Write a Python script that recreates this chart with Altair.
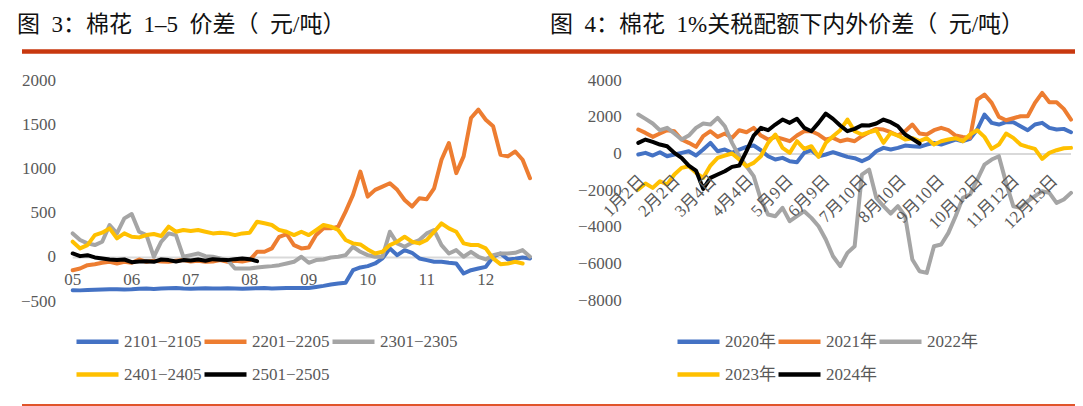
import altair as alt
import pandas as pd

FONT = "Liberation Serif, Noto Sans CJK SC"
GRAY_TXT = "#595959"
SP = "\u00a0\u00a0"

# ---------------- left panel: 棉花 1-5 价差 ----------------
left_title = "图" + SP + "3：棉花" + SP + "1–5" + SP + "价差（" + SP + "元/吨）"
left_series = ["2101−2105", "2201−2205", "2301−2305", "2401−2405", "2501−2505"]
left_colors = ["#4472C4", "#ED7D31", "#A5A5A5", "#FFC000", "#000000"]
left_month_labels = ["05", "06", "07", "08", "09", "10", "11", "12"]
left_month_pos = [0, 8, 16, 24, 32, 40, 48, 56]   # x index: 1/8 month steps
left_yticks = [-500, 0, 500, 1000, 1500, 2000]
left_ylabels = ["−500", "0", "500", "1000", "1500", "2000"]

l_2101 = [-370, -372, -368, -365, -362, -360, -358, -362, -360, -355, -352, -356, -350, -348, -345, -352,
          -355, -350, -348, -352, -350, -347, -350, -355, -350, -348, -345, -350, -348, -345, -346, -344,
          -344, -333, -321, -306, -295, -287, -144, -113, -98, -68, -11, 102, 26, 83, 53, -11, -30, -49,
          -49, -60, -68, -181, -144, -125, -106, 8, 45, -22, -15, 0, -11]
l_2201 = [-144, -125, -87, -76, -60, -49, -68, -49, -60, -23, -49, -38, -45, -49, -38, -30, -45, -38, -49,
          -45, -30, -49, -38, -45, -30, 64, 64, 102, 234, 265, 140, 102, 113, 253, 329, 329, 348, 518, 707,
          971, 688, 764, 801, 839, 764, 650, 575, 669, 658, 782, 1104, 1293, 953, 1142, 1576, 1671, 1557,
          1482, 1160, 1142, 1198, 1104, 896]
l_2301 = [272, 197, 159, 140, 178, 367, 272, 442, 491, 291, 253, 8, 178, 272, 253, 8, 26, 45, 15, 8, -11,
          -30, -125, -125, -125, -113, -106, -98, -87, -68, -49, 8, -60, -30, -23, 0, 8, 26, 121, 64, 26, 8,
          8, 291, 159, 121, 166, 197, 272, 310, 140, 45, 83, 8, 64, 8, -23, 26, 45, 45, 53, 83, 8]
l_2401 = [178, 102, 140, 253, 280, 329, 215, 272, 234, 227, 253, 265, 242, 348, 291, 310, 299, 310, 291,
          272, 280, 272, 253, 272, 280, 404, 386, 367, 310, 291, 253, 291, 253, 310, 367, 348, 310, 197, 159,
          147, 91, 45, 64, 140, 178, 234, 178, 159, 197, 291, 386, 329, 291, 159, 140, 140, 102, -11, -76,
          -68, -49, -68]
l_2501 = [45, 15, 26, 0, -11, -23, -30, -23, -53, -45, -42, -49, -23, -30, -45, -30, -34, -23, -38, -19,
          -26, -30, -19, -11, -19, -42]
left_values = [l_2101, l_2201, l_2301, l_2401, l_2501]

# ---------------- right panel: 1%关税配额下内外价差 ----------------
right_title = "图" + SP + "4：棉花" + SP + "1%关税配额下内外价差（" + SP + "元/吨）"
right_series = ["2020年", "2021年", "2022年", "2023年", "2024年"]
right_colors = ["#4472C4", "#ED7D31", "#A5A5A5", "#FFC000", "#000000"]
right_tick_labels = ["1月2日", "2月2日", "3月4日", "4月4日", "5月9日", "6月9日", "7月10日", "8月10日",
                     "9月10日", "10月12日", "11月12日", "12月13日"]
right_tick_pos = [0, 4.85, 9.9, 15.0, 20.5, 25.6, 30.8, 36.2, 41.5, 46.8, 51.9, 57.2]  # x index: 4 trading days
right_yticks = [-8000, -6000, -4000, -2000, 0, 2000, 4000]
right_ylabels = ["−8000", "−6000", "−4000", "−2000", "0", "2000", "4000"]

r_2020 = [-27, 64, -82, 100, -118, -27, 64, 155, -82, 245, 609, 155, 245, 64, 245, 391, 464, 209, -118,
          -300, -209, -391, -445, 64, 209, -118, -27, 100, -27, -155, -227, -391, -209, 155, 336, 245, 336,
          464, 427, 391, 518, 609, 518, 645, 791, 700, 827, 1336, 2154, 1700, 1609, 1736, 1736, 1518, 1300,
          1609, 1700, 1427, 1336, 1372, 1190]
r_2021 = [1336, 1154, 936, 1118, 1300, 1245, 791, 609, 391, 973, 1245, 936, 1118, 882, 1300, 1190, 1427,
          1009, 791, 936, 827, 700, 1009, 1245, 1245, 1063, 791, 882, 700, 791, 700, 973, 1190, 1372, 1336,
          1190, 1009, 1245, 1609, 1118, 1063, 1300, 1427, 1300, 1009, 936, 882, 2972, 3245, 2790, 2027, 1845,
          1954, 2063, 2063, 2790, 3336, 2827, 2827, 2463, 1882]
r_2022 = [2154, 1918, 1663, 1300, 1427, 1118, 791, 1009, 1427, 1663, 1609, 1973, 1518, 609, -118, -664,
          -1209, -2482, -3300, -3391, -2936, -3664, -3391, -3118, -3482, -3936, -4664, -5573, -6118, -5391,
          -5027, -1118, -846, -2391, -2846, -3245, -2846, -3391, -5755, -6391, -6482, -5027, -4936, -4300,
          -3391, -2391, -2209, -1391, -573, -300, -118, -1573, -2846, -2936, -2573, -2300, -2027, -2118,
          -2664, -2482, -2118]
r_2023 = [-1936, -1609, -1845, -1482, -1664, -1118, -755, -664, -1027, -1300, -627, -209, -82, 27, -300,
          -664, -482, -118, 609, 1063, 336, 64, 700, 282, 427, -155, 609, 973, 1300, 1882, 1245, 1063, 1190,
          1300, 609, 1154, 1009, 791, 864, 700, 864, 518, 700, 791, 864, 700, 1063, 1300, 936, 282, 518,
          1118, 882, 518, 391, 282, -264, 64, 209, 318, 336]
r_2024 = [609, 791, 664, 518, 427, 64, -209, -627, -900, -1900, -1300, -1118, -936, -700, -627, 155, 1009,
          1427, 1300, 1609, 1882, 1700, 1918, 1427, 1245, 1700, 2209, 1918, 1554, 1245, 1372, 1573, 1554,
          1663, 1882, 1736, 1518, 1063, 827, 573]
right_values = [r_2020, r_2021, r_2022, r_2023, r_2024]


def long_df(names, series_values):
    rows = []
    for name, vals in zip(names, series_values):
        for i, v in enumerate(vals):
            rows.append({"s": name, "i": i, "v": v})
    return pd.DataFrame(rows)


def panel(names, colors, series_values, xdom, xrange, ydom, yrange,
          tick_pos, tick_labels, yticks, ylabels, ylab_x, legend_x, col_pad, rotate):
    xs = alt.Scale(domain=xdom, range=xrange, nice=False, zero=False)
    ys = alt.Scale(domain=ydom, range=yrange, nice=False, zero=False)
    X = alt.X("i:Q", scale=xs, axis=None)
    Y = alt.Y("v:Q", scale=ys, axis=None)

    zero = alt.Chart(pd.DataFrame({"i": [xdom[0]], "i2": [xdom[1]], "v": [0]})).mark_rule(
        color="#D9D9D9", strokeWidth=2
    ).encode(x=X, x2="i2:Q", y=Y)

    lines = alt.Chart(long_df(names, series_values)).mark_line(
        strokeWidth=4, strokeJoin="round", strokeCap="round"
    ).encode(
        x=X, y=Y,
        color=alt.Color("s:N", sort=names,
                        scale=alt.Scale(domain=names, range=colors),
                        legend=alt.Legend(orient="none", legendX=legend_x, legendY=310,
                                          direction="horizontal", columns=3, title=None,
                                          symbolType="stroke", symbolSize=1764, symbolStrokeWidth=4.5,
                                          labelFont=FONT, labelFontSize=17, labelColor=GRAY_TXT,
                                          columnPadding=col_pad, rowPadding=-3, labelOffset=3,
                                          padding=0, labelLimit=0)),
        order="i:Q",
    )

    xt = pd.DataFrame({"i": tick_pos, "v": [0] * len(tick_pos), "t": tick_labels})
    if rotate:
        xlab = alt.Chart(xt).mark_text(angle=315, align="right", baseline="middle", dx=-14, dy=20,
                                       font=FONT, fontSize=17, color=GRAY_TXT)
    else:
        xlab = alt.Chart(xt).mark_text(align="center", baseline="middle", dy=23,
                                       font=FONT, fontSize=17, color=GRAY_TXT)
    xlab = xlab.encode(x=X, y=Y, text="t:N")

    ylab = alt.Chart(pd.DataFrame({"v": yticks, "t": ylabels})).mark_text(
        align="right", baseline="middle", font=FONT, fontSize=17, color=GRAY_TXT
    ).encode(y=Y, x=alt.value(ylab_x), text="t:N")

    return alt.layer(zero, lines, xlab, ylab)


left = panel(left_series, left_colors, left_values, [0, 62], [64.7, 522], [-500, 2000], [293.7, 72.5],
             left_month_pos, left_month_labels, left_yticks, left_ylabels, 48, 66, -7, False)
right = panel(right_series, right_colors, right_values, [0, 60], [630.3, 1063], [-8000, 4000], [292.7, 72.7],
              right_tick_pos, right_tick_labels, right_yticks, right_ylabels, 613.7, 667, -7, True)

titles = alt.Chart(pd.DataFrame({"t": [left_title, right_title], "px": [9, 542]})).mark_text(
    align="left", baseline="alphabetic", font=FONT, fontSize=23, color="#111111"
).encode(x=alt.X("px:Q", scale=None), y=alt.value(24), text="t:N")

top_rule = alt.Chart(pd.DataFrame({"k": [0]})).mark_rule(color="#C8380F", strokeWidth=4.4).encode(
    x=alt.value(14), x2=alt.value(1070), y=alt.value(43.5))
bottom_rule = alt.Chart(pd.DataFrame({"k": [0]})).mark_rule(color="#E0542A", strokeWidth=2).encode(
    x=alt.value(14), x2=alt.value(1075), y=alt.value(397))

chart = alt.layer(left, right, titles, top_rule, bottom_rule).resolve_scale(
    x="independent", y="independent", color="independent"
).properties(
    width=1067, height=398, padding=0, autosize=alt.AutoSizeParams(type="none")
).configure_view(stroke=None)

chart.save("out.html", embed_options={"renderer": "svg", "actions": False})
